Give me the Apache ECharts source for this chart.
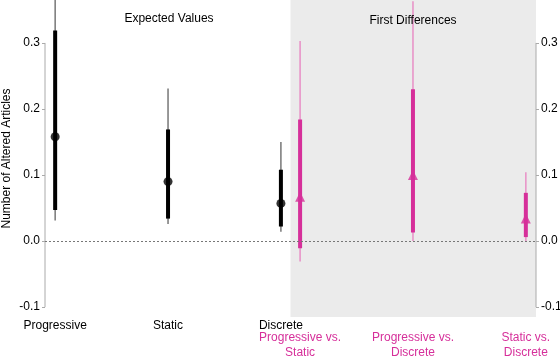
<!DOCTYPE html>
<html>
<head>
<meta charset="utf-8">
<script src="https://cdn.jsdelivr.net/npm/echarts@6/dist/echarts.min.js"></script>
<style>
  html, body { margin: 0; padding: 0; background: #fff; }
  #chart { width: 560px; height: 356px; }
</style>
</head>
<body>
<div id="chart"></div>
<script>
// expected values (black) and first differences (pink)
const evNames = ['Progressive', 'Static', 'Discrete']
const evX = [1, 2, 3]
const evPoint = [0.158, 0.090, 0.057]
const evInner = [[0.047, 0.319], [0.034, 0.169], [0.022, 0.108]]
const evOuter = [[0.031, 0.40], [0.026, 0.231], [0.014, 0.150]]

const fdNames = ['Progressive vs.\nStatic', 'Progressive vs.\nDiscrete', 'Static vs.\nDiscrete']
const fdX = [3.17, 4.17, 5.17]
const fdPoint = [0.067, 0.100, 0.034]
const fdInner = [[-0.011, 0.184], [0.013, 0.230], [0.006, 0.073]]
const fdOuter = [[-0.031, 0.303], [0.000, 0.363], [0.000, 0.104]]

const yTicks = [-0.1, 0, 0.1, 0.2, 0.3]
const xMin = 0.91
const xMax = 5.26
const yMin = -0.115
const yMax = 0.365
const fdStart = 3.085

const black = '#000000'
const pink = '#d62f9a'
const font = 'Liberation Sans, Arial, sans-serif'

const chart = echarts.init(document.getElementById('chart'))

// vertical segment [x, lo, hi]
const segment = (color, width) => (params, api) => {
  const p1 = api.coord([api.value(0), api.value(1)])
  const p2 = api.coord([api.value(0), api.value(2)])
  return {
    type: 'line',
    shape: {x1: p1[0], y1: p1[1], x2: p2[0], y2: p2[1]},
    style: {stroke: color, lineWidth: width}
  }
}

const intervals = (xs, arr) => xs.map((x, i) => [x, arr[i][0], arr[i][1]])
const tickLabel = v => (v === 0 ? '0.0' : v.toFixed(1))

const yAxisBase = {
  type: 'value',
  min: yMin,
  max: yMax,
  splitLine: {show: false},
  axisLine: {show: false},
  axisTick: {show: true, length: 3, customValues: yTicks, lineStyle: {color: '#aaaaaa'}},
  axisLabel: {customValues: yTicks, formatter: tickLabel, color: '#000', fontSize: 12, fontFamily: font, margin: 5}
}

const option = {
  animation: false,
  backgroundColor: '#ffffff',
  textStyle: {fontFamily: font},
  grid: {left: 45, right: 24, top: 0, bottom: 39, containLabel: false, outerBoundsMode: 'none'},
  xAxis: [
    {
      type: 'value', min: xMin, max: xMax,
      splitLine: {show: false}, axisLine: {show: false}, axisTick: {show: false},
      axisLabel: {
        customValues: evX,
        formatter: v => evNames[evX.indexOf(v)] || '',
        color: '#000', fontSize: 12, fontFamily: font, margin: 3
      }
    },
    {
      type: 'value', min: xMin, max: xMax, position: 'bottom',
      splitLine: {show: false}, axisLine: {show: false}, axisTick: {show: false},
      axisLabel: {
        customValues: fdX,
        formatter: v => fdNames[fdX.indexOf(v)] || '',
        color: pink, fontSize: 12, fontFamily: font, margin: 13, lineHeight: 15
      }
    }
  ],
  yAxis: [
    Object.assign({}, yAxisBase, {
      position: 'left',
      name: 'Number of Altered Articles',
      nameLocation: 'middle',
      nameGap: 32,
      nameMoveOverlap: false,
      nameTextStyle: {color: '#000', fontSize: 12, fontFamily: font}
    }),
    Object.assign({}, yAxisBase, {position: 'right'})
  ],
  title: [
    {text: 'Expected Values', left: 164, top: 8, textAlign: 'center',
      textStyle: {fontSize: 12, fontWeight: 'normal', color: '#000', fontFamily: font}},
    {text: 'First Differences', left: 408, top: 10, textAlign: 'center',
      textStyle: {fontSize: 12, fontWeight: 'normal', color: '#000', fontFamily: font}}
  ],
  series: [
    {
      // shaded first-differences panel + zero line
      type: 'line', data: [], silent: true,
      markArea: {
        silent: true,
        itemStyle: {color: '#ebebeb'},
        data: [[{coord: [fdStart, yMax]}, {coord: [xMax, yMin]}]]
      },
      markLine: {
        silent: true, symbol: 'none', label: {show: false},
        lineStyle: {color: '#777777', type: [2, 2], width: 1},
        data: [[{coord: [xMin, 0]}, {coord: [xMax, 0]}]]
      }
    },
    {
      // axis lines spanning the tick range only
      type: 'custom', silent: true,
      renderItem: segment('#aaaaaa', 1),
      data: [[xMin, -0.1, 0.3], [xMax, -0.1, 0.3]],
      clip: false, z: 1
    },
    {type: 'custom', renderItem: segment('#777777', 1.5), data: intervals(evX, evOuter), clip: true, z: 3},
    {type: 'custom', renderItem: segment(black, 4), data: intervals(evX, evInner), clip: true, z: 4},
    {type: 'custom', renderItem: segment('#e88fc6', 1.5), data: intervals(fdX, fdOuter), clip: true, z: 3},
    {type: 'custom', renderItem: segment(pink, 4), data: intervals(fdX, fdInner), clip: true, z: 4},
    {
      type: 'scatter', symbol: 'circle', symbolSize: 9, z: 5,
      itemStyle: {color: black},
      data: evX.map((x, i) => [x, evPoint[i]])
    },
    {
      type: 'scatter', symbol: 'triangle', symbolSize: 10, z: 5,
      itemStyle: {color: pink},
      data: fdX.map((x, i) => [x, fdPoint[i]])
    }
  ]
}

chart.setOption(option)
</script>
</body>
</html>
